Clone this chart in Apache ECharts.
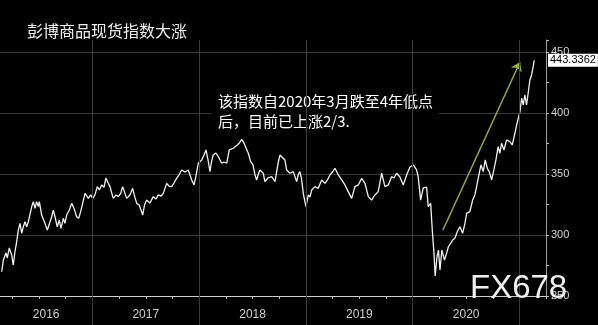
<!DOCTYPE html>
<html>
<head>
<meta charset="utf-8">
<script src="https://cdn.jsdelivr.net/npm/echarts@6/dist/echarts.min.js"></script>
<style>
html,body{margin:0;padding:0;background:#000;}
#chart{width:598px;height:325px;}
</style>
</head>
<body>
<div id="chart"></div>
<script>
// Decimal-year positions of the traced points
const timePoints = [
2016.151,2016.166,2016.191,2016.203,2016.222,2016.244,2016.259,2016.275,2016.291,2016.306,
2016.322,2016.338,2016.353,2016.369,2016.385,2016.400,2016.416,2016.432,2016.447,2016.463,
2016.478,2016.494,2016.503,2016.525,2016.540,2016.556,2016.578,2016.596,2016.619,2016.634,
2016.650,2016.671,2016.690,2016.706,2016.728,2016.743,2016.759,2016.784,2016.806,2016.828,
2016.853,2016.872,2016.890,2016.909,2016.931,2016.947,2016.962,2016.984,2017.003,2017.024,
2017.046,2017.065,2017.087,2017.109,2017.127,2017.149,2017.165,2017.181,2017.196,2017.221,
2017.243,2017.265,2017.284,2017.305,2017.321,2017.352,2017.377,2017.392,2017.415,2017.439,
2017.471,2017.488,2017.508,2017.539,2017.570,2017.596,2017.617,2017.643,2017.664,2017.696,
2017.717,2017.743,2017.764,2017.789,2017.811,2017.836,2017.867,2017.898,2017.930,2017.952,
2017.970,2017.992,2018.024,2018.045,2018.064,2018.083,2018.101,2018.115,2018.132,2018.157,
2018.179,2018.195,2018.211,2018.232,2018.258,2018.282,2018.298,2018.319,2018.335,2018.357,
2018.377,2018.398,2018.415,2018.429,2018.460,2018.482,2018.504,2018.523,2018.538,2018.555,
2018.569,2018.600,2018.616,2018.644,2018.679,2018.710,2018.741,2018.757,2018.775,2018.803,
2018.819,2018.835,2018.850,2018.881,2018.913,2018.930,2018.944,2018.960,2018.975,2019.000,
2019.022,2019.038,2019.054,2019.084,2019.115,2019.147,2019.178,2019.201,2019.225,2019.248,
2019.272,2019.303,2019.335,2019.365,2019.396,2019.428,2019.459,2019.490,2019.522,2019.553,
2019.584,2019.615,2019.646,2019.677,2019.709,2019.740,2019.771,2019.802,2019.824,2019.849,
2019.880,2019.911,2019.943,2019.974,2020.005,2020.036,2020.051,2020.074,2020.098,2020.130,
2020.145,2020.168,2020.183,2020.199,2020.210,2020.227,2020.241,2020.255,2020.273,2020.297,
2020.317,2020.333,2020.348,2020.374,2020.395,2020.417,2020.442,2020.467,2020.489,2020.505,
2020.535,2020.561,2020.582,2020.598,2020.623,2020.639,2020.660,2020.679,2020.698,2020.716,
2020.739,2020.760,2020.779,2020.800,2020.816,2020.832,2020.854,2020.879,2020.910,2020.932,
2020.957,2020.973,2020.991,2021.004,2021.020,2021.035,2021.050,2021.066,2021.081,2021.097,
2021.113,2021.128,2021.138
];

// Bloomberg Commodity Spot Index values
const indexValues = [
269.9,279.5,285.3,281.2,289.4,283.6,275.4,286.3,294.5,304.1,
309.6,301.4,306.8,310.9,306.8,310.9,309.6,323.3,327.4,321.9,
327.4,323.3,327.4,316.4,315.0,309.6,304.1,305.5,315.0,320.5,
315.0,306.8,312.3,305.5,313.7,309.6,316.4,320.5,326.0,321.9,
315.0,313.7,319.2,326.0,334.2,335.6,330.1,332.9,330.1,332.9,
339.7,337.0,341.1,339.2,346.8,342.4,339.7,334.5,330.1,332.9,
331.5,334.2,339.7,334.2,330.1,332.9,338.3,332.9,326.0,324.6,
316.4,324.6,328.7,326.3,331.5,329.6,332.9,332.0,334.2,342.4,
340.2,339.7,342.7,346.5,349.3,353.4,351.7,353.4,345.2,341.1,
348.4,358.9,361.6,365.7,369.8,361.6,352.0,359.9,365.7,367.3,
364.3,361.6,358.9,359.9,358.9,369.8,368.9,371.2,369.8,373.9,
375.5,378.5,376.3,375.3,367.1,360.2,357.5,349.3,345.2,350.1,
353.4,350.7,343.8,346.8,347.9,343.8,359.9,365.7,364.0,361.6,
353.4,354.8,350.7,352.0,343.8,350.1,352.0,345.2,334.2,323.3,
332.9,331.2,337.0,339.7,338.3,345.2,342.4,345.2,349.3,351.7,
354.8,349.3,345.2,341.1,335.6,330.1,339.7,341.1,346.5,342.4,
331.5,328.7,332.9,335.6,350.7,339.7,341.1,347.9,346.8,350.7,
347.6,341.1,349.3,355.8,357.5,353.4,347.9,328.7,338.6,339.4,
323.3,326.0,304.1,285.0,266.4,282.0,287.7,271.3,287.7,279.5,
285.0,290.2,289.1,295.9,297.3,302.7,306.8,301.4,309.6,317.8,
319.2,328.7,332.9,339.7,350.7,357.5,352.0,361.6,354.8,352.0,
345.2,353.4,361.6,372.5,367.1,375.3,369.8,378.0,376.6,373.9,
383.5,390.3,391.7,401.2,412.2,406.7,414.9,406.7,416.3,427.2,
431.3,438.1,443.3362
];

// Year label positions (centre of each visible year band) and tick labels
const yearLabelPositions = [2016.567, 2017.5, 2018.5, 2019.5, 2020.5];
const yearLabels = ['2016', '2017', '2018', '2019', '2020'];

// Trend arrow (data coordinates: [year, index value])
const arrowStart = [2020.283, 304.1];
const arrowEnd = [2021.005, 442.0];

const titleText = '彭博商品现货指数大涨';
const noteText = '该指数自2020年3月跌至4年低点\n后，目前已上涨2/3.';
const watermarkText = 'FX678';

const xMin = 2016, xMax = 2021.248;
const yMin = 250, yMax = 460;

const seriesData = timePoints.map((t, i) => [t, indexValues[i]]);
const lastValue = indexValues[indexValues.length - 1];

const chart = echarts.init(document.getElementById('chart'), null, {renderer: 'canvas'});

chart.setOption({
  backgroundColor: '#000',
  animation: false,
  title: {
    text: titleText,
    left: 27,
    top: 23,
    padding: 0,
    textStyle: {
      color: '#f0f0f0',
      fontSize: 16,
      fontWeight: 'normal',
      fontFamily: '"Noto Sans CJK SC", sans-serif'
    }
  },
  grid: [
    {left: -14.4, right: 52, top: 40, bottom: 29, containLabel: false, outerBoundsMode: 'none'},
    {left: -14.4, right: 52, top: 40, bottom: 0, containLabel: false, outerBoundsMode: 'none'}
  ],
  xAxis: [
    {
      type: 'value', gridIndex: 0, min: xMin, max: xMax, interval: 1,
      axisLine: {show: true, onZero: false, lineStyle: {color: '#cfcfcf', width: 1}},
      axisTick: {show: true, length: 3, lineStyle: {color: '#bbbbbb'}},
      minorTick: {show: true, splitNumber: 4, length: 3, lineStyle: {color: '#bbbbbb'}},
      splitLine: {show: false},
      axisLabel: {
        customValues: yearLabelPositions,
        formatter: (v) => yearLabels[yearLabelPositions.indexOf(v)] || String(Math.floor(v)),
        color: '#cfcfcf', fontSize: 12, margin: 13,
        fontFamily: '"Liberation Sans", Arial, sans-serif'
      }
    },
    {
      type: 'value', gridIndex: 1, min: xMin, max: xMax, interval: 1, zlevel: 1, z: 0,
      axisLine: {show: false}, axisTick: {show: false}, axisLabel: {show: false},
      splitLine: {show: true, showMinLine: false, showMaxLine: false, lineStyle: {color: '#3c3c3c', width: 1}}
    }
  ],
  yAxis: [
    {
      type: 'value', gridIndex: 0, position: 'right', min: yMin, max: yMax, interval: 50, z: 0,
      axisLine: {show: true, lineStyle: {color: '#9a9a9a'}},
      axisTick: {show: true, length: 3, lineStyle: {color: '#bbbbbb'}},
      minorTick: {show: true, splitNumber: 2, length: 3, lineStyle: {color: '#bbbbbb'}},
      splitLine: {show: true, showMaxLine: false, lineStyle: {color: '#383838'}},
      axisLabel: {
        showMaxLabel: false,
        color: '#d4d4d4', fontSize: 11, margin: 5,
        fontFamily: '"Liberation Sans", Arial, sans-serif'
      }
    },
    {
      type: 'value', gridIndex: 0, position: 'right', min: yMin, max: yMax, z: 30,
      axisLine: {show: false}, axisTick: {show: false}, splitLine: {show: false},
      axisLabel: {
        customValues: [lastValue],
        formatter: (v) => v.toFixed(4),
        color: '#000', backgroundColor: '#ffffff',
        fontSize: 11, lineHeight: 12, padding: [1, 2, 0, 2], margin: 2,
        fontFamily: '"Liberation Sans", Arial, sans-serif'
      }
    },
    {type: 'value', gridIndex: 1, show: false, min: 0, max: 1}
  ],
  series: [
    {
      type: 'line',
      xAxisIndex: 0, yAxisIndex: 0,
      data: seriesData,
      showSymbol: false,
      smooth: false,
      lineStyle: {color: '#f2f2f2', width: 1.3},
      z: 3,
      markLine: {
        silent: true,
        symbol: ['none', 'arrow'],
        symbolSize: 9,
        label: {show: false},
        lineStyle: {color: '#8fae45', width: 1.5, type: 'solid'},
        data: [[{coord: arrowStart}, {coord: arrowEnd}]]
      }
    },
    {type: 'line', xAxisIndex: 1, yAxisIndex: 2, data: []}
  ],
  graphic: {
    elements: [
      {
        type: 'text', left: 212, top: 88, z: 1,
        style: {
          text: noteText,
          fill: '#ffffff',
          font: '15px "Noto Sans CJK SC", sans-serif',
          lineHeight: 20,
          backgroundColor: '#000',
          padding: [3, 6, 3, 6]
        }
      },
      {
        type: 'text', left: 470, top: 272, z: 100, zlevel: 2,
        style: {
          text: watermarkText,
          fill: '#efefef',
          font: '33px "Liberation Sans", Arial, sans-serif'
        }
      }
    ]
  }
});
</script>
</body>
</html>
